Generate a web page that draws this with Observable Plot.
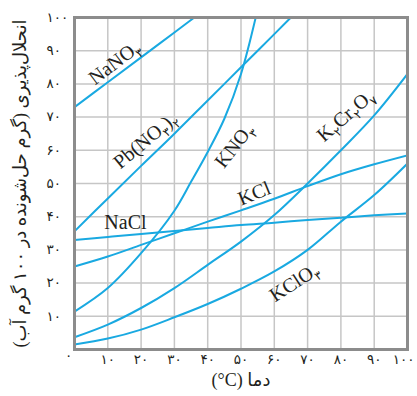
<!DOCTYPE html>
<html><head><meta charset="utf-8">
<script src="https://cdn.jsdelivr.net/npm/d3@7"></script>
<script src="https://cdn.jsdelivr.net/npm/@observablehq/plot@0.6"></script>
<style>body{margin:0;background:#fff;} svg{display:block}</style>
</head><body><div id="chart"></div>
<script>
// Temperatures (°C)
const temps = [0, 10, 20, 30, 40, 50, 60, 70, 80, 90, 100];
const kno3Temps = [0, 10, 20, 30, 35, 40, 45, 50, 55];
// Solubility (g solute per 100 g water)
const NaNO3   = [73, 80.5, 88, 95.5, 103];
const PbNO32  = [35.6, 45.5, 55.3, 65, 75, 85, 95, 105];
const KNO3    = [11.4, 18.5, 29, 41.8, 50.5, 59.5, 69.5, 83, 102.5];
const NaCl    = [33, 33.9, 34.8, 35.7, 36.6, 37.5, 38.2, 39, 39.7, 40.4, 41];
const KCl     = [25, 28, 31.5, 35, 38.5, 41.9, 45.4, 49.2, 52.8, 55.8, 58.5];
const K2Cr2O7 = [3.7, 7.5, 12.5, 18.5, 25.5, 32.5, 40.5, 50, 60, 70.5, 83];
const KClO3   = [1.5, 3.3, 6, 9.7, 13.7, 18.3, 23.5, 30, 38.5, 46.5, 56];

// Curve labels (underscore marks a subscript digit)
const labelTexts = ["NaNO_۳", "Pb(NO_۳)_۲", "KNO_۳", "K_۲Cr_۲O_۷", "KCl", "NaCl", "KClO_۳"];
const labelT = [12, 21.3, 48, 81.4, 54, 15.3, 66];
const labelV = [86.4, 63, 61.4, 70.5, 47, 38.3, 20.2];
const labelAngle = [-37, -40, -52, -41, -22, 0, -33];

// Axis ticks
const tickValues = [10, 20, 30, 40, 50, 60, 70, 80, 90, 100];
const tickLabels = ["۱۰", "۲۰", "۳۰", "۴۰", "۵۰", "۶۰", "۷۰", "۸۰", "۹۰", "۱۰۰"];
const zeroLabel = "۰";
const xTitle = "(°C) دما";
const yTitle = "\u202Bانحلال\u200Cپذیری (گرم حل\u200Cشونده در ۱۰۰ گرم آب)\u202C";

const series = [
  ["NaNO3", temps, NaNO3], ["PbNO32", temps, PbNO32], ["KNO3", kno3Temps, KNO3],
  ["NaCl", temps, NaCl], ["KCl", temps, KCl], ["K2Cr2O7", temps, K2Cr2O7], ["KClO3", temps, KClO3]
];
const rows = series.flatMap(([salt, ts, vs]) => vs.map((v, i) => ({salt, t: ts[i], v})));
const labels = labelTexts.map((text, i) => ({text, t: labelT[i], v: labelV[i], a: labelAngle[i]}));
const fmt = d => tickLabels[tickValues.indexOf(d)];
const xMain = tickValues.slice(0, -1);
const xLast = tickValues.slice(-1);

const chart = Plot.plot({
  width: 417, height: 396,
  marginLeft: 74, marginRight: 10, marginTop: 17, marginBottom: 47,
  x: {domain: [0, 100]},
  y: {domain: [0, 100]},
  style: {background: "#fff", fontFamily: "'Liberation Serif', 'DejaVu Sans', serif", color: "#231f20"},
  marks: [
    Plot.gridX(tickValues, {stroke: "#c6c6c6", strokeOpacity: 1, strokeWidth: 1.5}),
    Plot.gridY(tickValues, {stroke: "#c6c6c6", strokeOpacity: 1, strokeWidth: 1.5}),
    Plot.line(rows, {x: "t", y: "v", z: "salt", stroke: "#19a9e1", strokeWidth: 2, curve: "catmull-rom", clip: true}),
    Plot.frame({stroke: "#8c8c8c", strokeWidth: 3}),
    Plot.axisX({ticks: xMain, tickFormat: fmt, tickSize: 0, tickPadding: 5, fontSize: 13.5, fontFamily: "DejaVu Sans", label: null}),
    Plot.axisX({ticks: xLast, tickFormat: fmt, tickSize: 0, tickPadding: 5, dx: -4, fontSize: 13.5, fontFamily: "DejaVu Sans", label: null}),
    Plot.axisX({ticks: [0], tickFormat: () => zeroLabel, tickSize: 0, tickPadding: 1, dx: -6, fontSize: 13.5, fontFamily: "DejaVu Sans", label: null}),
    Plot.axisY({ticks: tickValues, tickFormat: fmt, tickSize: 0, tickPadding: 0, textAnchor: "start", dx: -28, fontSize: 13.5, fontFamily: "DejaVu Sans", label: null}),
    Plot.text(labels, {x: "t", y: "v", text: "text", rotate: "a", fontSize: 20, fill: "#231f20"}),
    Plot.text([yTitle], {text: d => d, frameAnchor: "left", textAnchor: "middle", dx: -54, rotate: -90, fontSize: 18, fill: "#231f20"}),
    Plot.text([xTitle], {text: d => d, frameAnchor: "bottom", dy: 36, fontSize: 18, fill: "#231f20"})
  ]
});

// Render subscript digits as tspans
chart.querySelectorAll("text").forEach(el => {
  const s = el.textContent;
  if (!s.includes("_")) return;
  el.textContent = "";
  let sub = false;
  const parts = s.split(/(_.)/).filter(p => p.length);
  for (const p of parts) {
    const ts = document.createElementNS("http://www.w3.org/2000/svg", "tspan");
    if (p.startsWith("_")) {
      ts.textContent = p.slice(1);
      ts.setAttribute("font-size", "12");
      ts.setAttribute("font-family", "DejaVu Sans");
      if (!sub) ts.setAttribute("dy", "5");
      sub = true;
    } else {
      ts.textContent = p;
      if (sub) ts.setAttribute("dy", "-5");
      sub = false;
    }
    el.appendChild(ts);
  }
});

document.getElementById("chart").appendChild(chart);
</script>
</body></html>
